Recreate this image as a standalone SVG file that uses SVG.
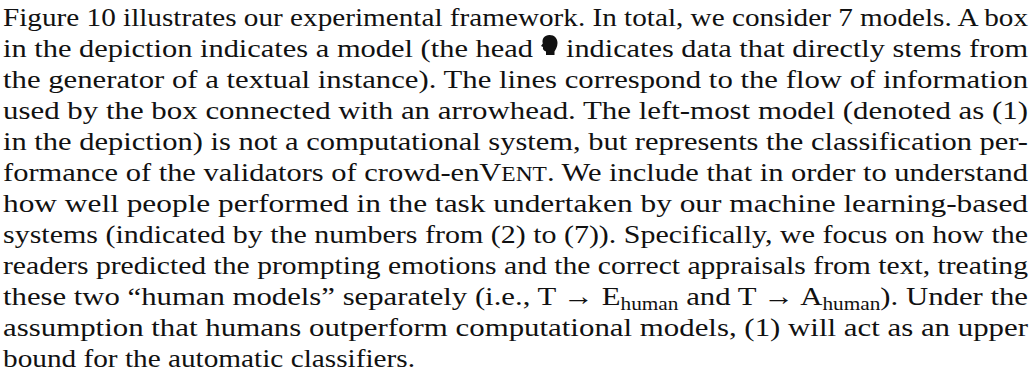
<svg xmlns="http://www.w3.org/2000/svg" width="1035" height="384" viewBox="0 0 1035 384">
<style>
text{font-family:"Liberation Serif","Times New Roman",serif;font-size:26px;fill:#111}
.sc{font-size:20px}
.sub{font-size:18px}
</style>
<rect width="1035" height="384" fill="#fff"/>
<g id="paragraph">
<text x="3" y="25.5" textLength="1025" lengthAdjust="spacingAndGlyphs">Figure 10 illustrates our experimental framework. In total, we consider 7 models. A box</text>
<text x="3" y="56.5" textLength="530" lengthAdjust="spacingAndGlyphs">in the depiction indicates a model (the head</text>
<text x="566" y="56.5" textLength="462" lengthAdjust="spacingAndGlyphs">indicates data that directly stems from</text>
<text x="3" y="87.5" textLength="1025" lengthAdjust="spacingAndGlyphs">the generator of a textual instance). The lines correspond to the flow of information</text>
<text x="3" y="118.5" textLength="1025" lengthAdjust="spacingAndGlyphs">used by the box connected with an arrowhead. The left-most model (denoted as (1)</text>
<text x="3" y="149.5" textLength="1025" lengthAdjust="spacingAndGlyphs">in the depiction) is not a computational system, but represents the classification per-</text>
<text x="3" y="180.5" textLength="1025" lengthAdjust="spacingAndGlyphs">formance of the validators of crowd-enV<tspan class="sc">ENT</tspan>. We include that in order to understand</text>
<text x="3" y="211.5" textLength="1025" lengthAdjust="spacingAndGlyphs">how well people performed in the task undertaken by our machine learning-based</text>
<text x="3" y="242.5" textLength="1025" lengthAdjust="spacingAndGlyphs">systems (indicated by the numbers from (2) to (7)). Specifically, we focus on how the</text>
<text x="3" y="273.5" textLength="1025" lengthAdjust="spacingAndGlyphs">readers predicted the prompting emotions and the correct appraisals from text, treating</text>
<text x="3" y="304.5" textLength="1025" lengthAdjust="spacingAndGlyphs">these two “human models” separately (i.e., T → E<tspan class="sub" dy="5">human</tspan><tspan dy="-5"> and T → A</tspan><tspan class="sub" dy="5">human</tspan><tspan dy="-5">). Under the</tspan></text>
<text x="3" y="335.5" textLength="1025" lengthAdjust="spacingAndGlyphs">assumption that humans outperform computational models, (1) will act as an upper</text>
<text x="3" y="366.5" textLength="412" lengthAdjust="spacingAndGlyphs">bound for the automatic classifiers.</text>
</g>
<g id="head-icon">
<path d="M546 55 L546 51.5 C543.5 51 542.5 49 543 47 L541 46 L542.8 43.5 C541.5 39 544.5 35 549.5 35 C554.5 35 557.5 38.5 557.5 43 C557.5 47 555.5 49.5 554.5 51.5 L554.5 55 Z" fill="#111"/>
</g>
</svg>
